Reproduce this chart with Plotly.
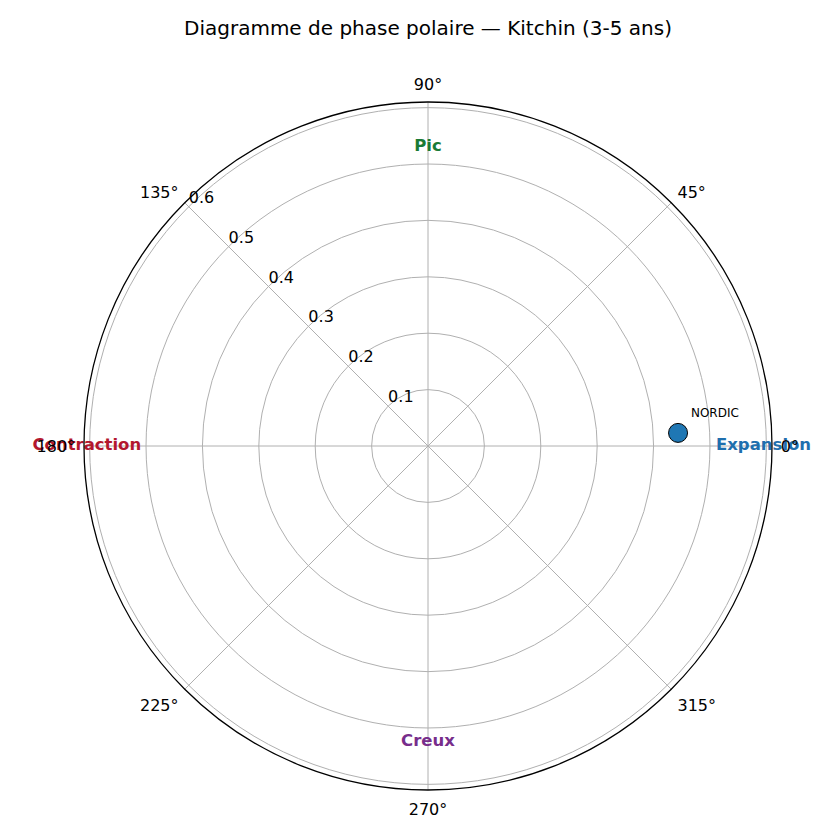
import plotly.graph_objects as go

# data
country_names = ["NORDIC"]
country_r = [0.444]
country_theta = [3.0]

phase_names = ["Expansion", "Pic", "Contraction", "Creux"]
phase_r = [0.595, 0.53, 0.605, 0.525]
phase_theta = [0, 90, 180, 270]
phase_colors = ["#1f6fae", "#1a7a35", "#b3172e", "#772d8b"]

radial_ticks = [0.1, 0.2, 0.3, 0.4, 0.5, 0.6]
radial_label_angle = 135
angle_ticks = [0, 45, 90, 135, 180, 225, 270, 315]
angle_labels = [f"{a}°" for a in angle_ticks]

fig = go.Figure()

# radial tick labels drawn as text so they stay horizontal
fig.add_trace(go.Scatterpolar(
    r=radial_ticks, theta=[radial_label_angle] * len(radial_ticks),
    mode="text",
    text=[f"{v:.1f}" for v in radial_ticks],
    textposition="top right",
    textfont=dict(size=16, color="black", family="DejaVu Sans"),
    showlegend=False, hoverinfo="skip",
    cliponaxis=False,
))

fig.add_trace(go.Scatterpolar(
    r=country_r, theta=country_theta,
    mode="markers+text",
    text=country_names,
    textposition="top right",
    textfont=dict(size=12, color="black", family="DejaVu Sans"),
    marker=dict(size=19, color="#1f77b4", line=dict(width=1, color="black")),
    showlegend=False,
    cliponaxis=False,
))

fig.add_trace(go.Scatterpolar(
    r=phase_r, theta=phase_theta,
    mode="text",
    text=[f"<b>{p}</b>" for p in phase_names],
    textposition="middle center",
    textfont=dict(size=16.5, color=phase_colors, family="DejaVu Sans"),
    showlegend=False,
    cliponaxis=False,
))

fig.update_layout(
    width=840, height=840,
    paper_bgcolor="white",
    margin=dict(l=0, r=0, t=0, b=0),
    font=dict(family="DejaVu Sans", size=16, color="black"),
    title=dict(text="Diagramme de phase polaire — Kitchin (3-5 ans)",
               x=420 / 840, xanchor="center", y=1 - 20 / 840, yanchor="middle",
               font=dict(size=20)),
    polar=dict(
        domain=dict(x=[76 / 840, 764 / 840], y=[58 / 840, 746 / 840]),
        bgcolor="white",
        radialaxis=dict(
            range=[0, 0.61], tickvals=radial_ticks,
            angle=radial_label_angle,
            showticklabels=False,
            showline=False, ticks="",
            gridcolor="#b0b0b0", gridwidth=1,
        ),
        angularaxis=dict(
            tickvals=angle_ticks, ticktext=angle_labels,
            direction="counterclockwise", rotation=0,
            showline=True, linecolor="black", linewidth=1.3,
            ticks="outside", ticklen=5, tickcolor="rgba(0,0,0,0)",
            gridcolor="#b0b0b0", gridwidth=1,
            tickfont=dict(size=16),
        ),
    ),
)

fig.write_html("out.html")
